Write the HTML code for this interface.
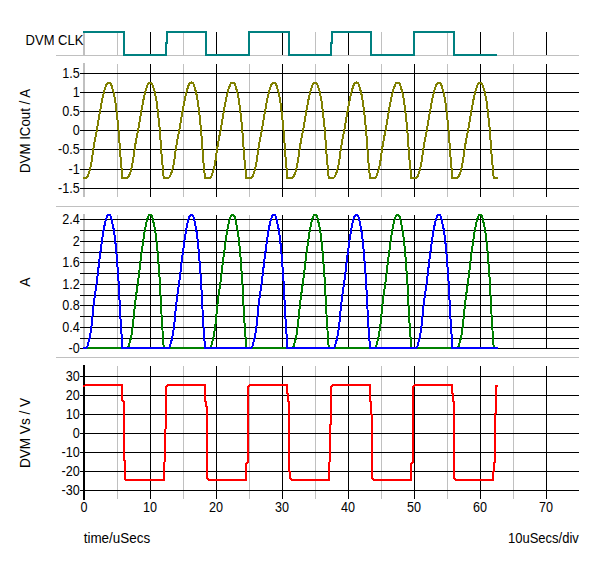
<!DOCTYPE html>
<html><head><meta charset="utf-8"><title>DVM waveforms</title>
<style>
html,body{margin:0;padding:0;background:#fff;}
body{width:600px;height:563px;overflow:hidden;}
svg{display:block;}
svg text{font-family:"Liberation Sans",sans-serif;font-size:14px;fill:#000;}
</style></head><body>
<svg width="600" height="563" viewBox="0 0 600 563">
<rect x="0" y="0" width="600" height="563" fill="#fff"/>
<g shape-rendering="crispEdges">
<rect x="56" y="55" width="523" height="1" fill="#c0c0c0"/>
<rect x="56" y="206" width="523" height="1" fill="#c0c0c0"/>
<rect x="56" y="357" width="523" height="1" fill="#c0c0c0"/>
<rect x="117" y="32" width="1" height="23" fill="#c0c0c0"/>
<rect x="183" y="32" width="1" height="23" fill="#c0c0c0"/>
<rect x="249" y="32" width="1" height="23" fill="#c0c0c0"/>
<rect x="315" y="32" width="1" height="23" fill="#c0c0c0"/>
<rect x="381" y="32" width="1" height="23" fill="#c0c0c0"/>
<rect x="447" y="32" width="1" height="23" fill="#c0c0c0"/>
<rect x="513" y="32" width="1" height="23" fill="#c0c0c0"/>
<rect x="150" y="32" width="1" height="23" fill="#000"/>
<rect x="216" y="32" width="1" height="23" fill="#000"/>
<rect x="282" y="32" width="1" height="23" fill="#000"/>
<rect x="348" y="32" width="1" height="23" fill="#000"/>
<rect x="414" y="32" width="1" height="23" fill="#000"/>
<rect x="480" y="32" width="1" height="23" fill="#000"/>
<rect x="546" y="32" width="1" height="23" fill="#000"/>
<rect x="83" y="32" width="2" height="24" fill="#c0c0c0"/>
<rect x="117" y="64" width="1" height="133" fill="#c0c0c0"/>
<rect x="183" y="64" width="1" height="133" fill="#c0c0c0"/>
<rect x="249" y="64" width="1" height="133" fill="#c0c0c0"/>
<rect x="315" y="64" width="1" height="133" fill="#c0c0c0"/>
<rect x="381" y="64" width="1" height="133" fill="#c0c0c0"/>
<rect x="447" y="64" width="1" height="133" fill="#c0c0c0"/>
<rect x="513" y="64" width="1" height="133" fill="#c0c0c0"/>
<rect x="83" y="63" width="2" height="134" fill="#c0c0c0"/>
<rect x="150" y="64" width="1" height="133" fill="#000"/>
<rect x="216" y="64" width="1" height="133" fill="#000"/>
<rect x="282" y="64" width="1" height="133" fill="#000"/>
<rect x="348" y="64" width="1" height="133" fill="#000"/>
<rect x="414" y="64" width="1" height="133" fill="#000"/>
<rect x="480" y="64" width="1" height="133" fill="#000"/>
<rect x="546" y="64" width="1" height="133" fill="#000"/>
<rect x="80" y="73" width="499" height="1" fill="#000"/>
<rect x="80" y="92" width="499" height="1" fill="#000"/>
<rect x="80" y="111" width="499" height="1" fill="#000"/>
<rect x="80" y="130" width="499" height="1" fill="#000"/>
<rect x="80" y="149" width="499" height="1" fill="#000"/>
<rect x="80" y="169" width="499" height="1" fill="#000"/>
<rect x="80" y="188" width="499" height="1" fill="#000"/>
<rect x="117" y="215" width="1" height="134" fill="#c0c0c0"/>
<rect x="183" y="215" width="1" height="134" fill="#c0c0c0"/>
<rect x="249" y="215" width="1" height="134" fill="#c0c0c0"/>
<rect x="315" y="215" width="1" height="134" fill="#c0c0c0"/>
<rect x="381" y="215" width="1" height="134" fill="#c0c0c0"/>
<rect x="447" y="215" width="1" height="134" fill="#c0c0c0"/>
<rect x="513" y="215" width="1" height="134" fill="#c0c0c0"/>
<rect x="83" y="214" width="2" height="135" fill="#c0c0c0"/>
<rect x="150" y="215" width="1" height="134" fill="#000"/>
<rect x="216" y="215" width="1" height="134" fill="#000"/>
<rect x="282" y="215" width="1" height="134" fill="#000"/>
<rect x="348" y="215" width="1" height="134" fill="#000"/>
<rect x="414" y="215" width="1" height="134" fill="#000"/>
<rect x="480" y="215" width="1" height="134" fill="#000"/>
<rect x="546" y="215" width="1" height="134" fill="#000"/>
<rect x="80" y="219" width="499" height="1" fill="#000"/>
<rect x="80" y="230" width="499" height="1" fill="#000"/>
<rect x="80" y="241" width="499" height="1" fill="#000"/>
<rect x="80" y="252" width="499" height="1" fill="#000"/>
<rect x="80" y="262" width="499" height="1" fill="#000"/>
<rect x="80" y="273" width="499" height="1" fill="#000"/>
<rect x="80" y="284" width="499" height="1" fill="#000"/>
<rect x="80" y="295" width="499" height="1" fill="#000"/>
<rect x="80" y="305" width="499" height="1" fill="#000"/>
<rect x="80" y="316" width="499" height="1" fill="#000"/>
<rect x="80" y="327" width="499" height="1" fill="#000"/>
<rect x="80" y="338" width="499" height="1" fill="#000"/>
<rect x="80" y="348" width="499" height="1" fill="#000"/>
<rect x="117" y="366" width="1" height="133" fill="#c0c0c0"/>
<rect x="183" y="366" width="1" height="133" fill="#c0c0c0"/>
<rect x="249" y="366" width="1" height="133" fill="#c0c0c0"/>
<rect x="315" y="366" width="1" height="133" fill="#c0c0c0"/>
<rect x="381" y="366" width="1" height="133" fill="#c0c0c0"/>
<rect x="447" y="366" width="1" height="133" fill="#c0c0c0"/>
<rect x="513" y="366" width="1" height="133" fill="#c0c0c0"/>
<rect x="150" y="366" width="1" height="133" fill="#000"/>
<rect x="216" y="366" width="1" height="133" fill="#000"/>
<rect x="282" y="366" width="1" height="133" fill="#000"/>
<rect x="348" y="366" width="1" height="133" fill="#000"/>
<rect x="414" y="366" width="1" height="133" fill="#000"/>
<rect x="480" y="366" width="1" height="133" fill="#000"/>
<rect x="546" y="366" width="1" height="133" fill="#000"/>
<rect x="80" y="376" width="499" height="1" fill="#000"/>
<rect x="80" y="395" width="499" height="1" fill="#000"/>
<rect x="80" y="414" width="499" height="1" fill="#000"/>
<rect x="80" y="433" width="499" height="1" fill="#000"/>
<rect x="80" y="452" width="499" height="1" fill="#000"/>
<rect x="80" y="471" width="499" height="1" fill="#000"/>
<rect x="80" y="490" width="499" height="1" fill="#000"/>
<rect x="83" y="365" width="2" height="135" fill="#000"/>
<path d="M83.00 32.00 L124.00 32.00 L124.00 55.00 L166.00 55.00 L166.00 43.00 L167.00 43.00 L167.00 32.00 L206.00 32.00 L206.00 55.00 L249.00 55.00 L249.00 32.00 L289.00 32.00 L289.00 55.00 L331.00 55.00 L331.00 43.00 L332.00 43.00 L332.00 32.00 L371.00 32.00 L371.00 55.00 L414.00 55.00 L414.00 32.00 L454.00 32.00 L454.00 55.00 L497.00 55.00" fill="none" stroke="#008080" stroke-width="2" stroke-linejoin="miter" />
<path d="M83.00 177.80 L83.50 177.80 L84.00 177.80 L84.50 177.80 L85.00 177.80 L85.50 177.80 L86.00 177.80 L86.05 177.80 L86.50 177.61 L87.00 177.10 L87.50 176.39 L88.00 175.15 L88.50 173.77 L89.00 172.45 L89.50 171.01 L90.00 169.31 L90.50 167.21 L91.00 164.74 L91.50 161.97 L92.00 158.99 L92.50 155.40 L93.00 151.50 L93.50 148.03 L94.00 144.98 L94.50 142.13 L95.00 139.40 L95.50 136.85 L96.00 134.41 L96.50 131.93 L97.00 129.28 L97.50 126.41 L98.00 123.40 L98.50 120.33 L99.00 117.26 L99.50 114.29 L100.00 111.47 L100.50 108.77 L101.00 106.08 L101.50 103.43 L102.00 100.84 L102.50 98.36 L103.00 96.02 L103.50 93.86 L104.00 91.92 L104.50 90.13 L105.00 88.48 L105.50 86.99 L106.00 85.72 L106.50 84.55 L107.00 83.52 L107.50 82.97 L108.00 82.73 L108.50 82.57 L109.00 82.50 L109.50 82.59 L110.00 82.86 L110.50 83.26 L111.00 84.01 L111.50 85.37 L112.00 87.04 L112.50 88.74 L113.00 90.36 L113.50 92.19 L114.00 94.37 L114.50 96.92 L115.00 99.79 L115.50 102.93 L116.00 106.57 L116.50 110.67 L117.00 115.25 L117.50 120.07 L118.00 124.54 L118.50 129.44 L119.00 135.98 L119.50 143.11 L120.00 150.19 L120.50 157.04 L121.00 162.76 L121.50 167.59 L122.00 172.82 L122.45 177.80 L122.50 177.80 L123.00 177.80 L123.50 177.80 L124.00 177.80 L124.50 177.80 L125.00 177.80 L125.50 177.80 L126.00 177.80 L126.50 177.80 L127.00 177.80 L127.30 177.80 L127.50 177.75 L128.00 177.38 L128.50 176.80 L129.00 175.82 L129.50 174.45 L130.00 173.11 L130.50 171.75 L131.00 170.21 L131.50 168.32 L132.00 166.02 L132.50 163.39 L133.00 160.51 L133.50 157.29 L134.00 153.44 L134.50 149.67 L135.00 146.48 L135.50 143.53 L136.00 140.75 L136.50 138.10 L137.00 135.63 L137.50 133.19 L138.00 130.64 L138.50 127.87 L139.00 124.92 L139.50 121.87 L140.00 118.79 L140.50 115.76 L141.00 112.85 L141.50 110.12 L142.00 107.43 L142.50 104.75 L143.00 102.12 L143.50 99.58 L144.00 97.17 L144.50 94.92 L145.00 92.86 L145.50 91.01 L146.00 89.28 L146.50 87.71 L147.00 86.33 L147.50 85.13 L148.00 84.00 L148.50 83.17 L149.00 82.85 L149.50 82.64 L150.00 82.52 L150.50 82.52 L151.00 82.71 L151.50 83.05 L152.00 83.54 L152.50 84.63 L153.00 86.18 L153.50 87.91 L154.00 89.54 L154.50 91.24 L155.00 93.23 L155.50 95.60 L156.00 98.32 L156.50 101.32 L157.00 104.67 L157.50 108.58 L158.00 112.88 L158.50 117.68 L159.00 122.32 L159.50 126.87 L160.00 132.49 L160.50 139.50 L161.00 146.70 L161.50 153.68 L162.00 160.10 L162.50 165.19 L163.00 170.15 L163.50 175.56 L163.70 177.80 L164.00 177.80 L164.50 177.80 L165.00 177.80 L165.50 177.80 L166.00 177.80 L166.50 177.80 L167.00 177.80 L167.50 177.80 L168.00 177.80 L168.50 177.80 L168.55 177.80 L169.00 177.61 L169.50 177.10 L170.00 176.39 L170.50 175.15 L171.00 173.77 L171.50 172.45 L172.00 171.01 L172.50 169.31 L173.00 167.21 L173.50 164.74 L174.00 161.97 L174.50 158.99 L175.00 155.40 L175.50 151.50 L176.00 148.03 L176.50 144.98 L177.00 142.13 L177.50 139.40 L178.00 136.85 L178.50 134.41 L179.00 131.93 L179.50 129.28 L180.00 126.41 L180.50 123.40 L181.00 120.33 L181.50 117.26 L182.00 114.29 L182.50 111.47 L183.00 108.77 L183.50 106.08 L184.00 103.43 L184.50 100.84 L185.00 98.36 L185.50 96.02 L186.00 93.86 L186.50 91.92 L187.00 90.13 L187.50 88.48 L188.00 86.99 L188.50 85.72 L189.00 84.55 L189.50 83.52 L190.00 82.97 L190.50 82.73 L191.00 82.57 L191.50 82.50 L192.00 82.59 L192.50 82.86 L193.00 83.26 L193.50 84.01 L194.00 85.37 L194.50 87.04 L195.00 88.74 L195.50 90.36 L196.00 92.19 L196.50 94.37 L197.00 96.92 L197.50 99.79 L198.00 102.93 L198.50 106.57 L199.00 110.67 L199.50 115.25 L200.00 120.07 L200.50 124.54 L201.00 129.44 L201.50 135.98 L202.00 143.11 L202.50 150.19 L203.00 157.04 L203.50 162.76 L204.00 167.59 L204.50 172.82 L204.95 177.80 L205.00 177.80 L205.50 177.80 L206.00 177.80 L206.50 177.80 L207.00 177.80 L207.50 177.80 L208.00 177.80 L208.50 177.80 L209.00 177.80 L209.50 177.80 L209.80 177.80 L210.00 177.75 L210.50 177.38 L211.00 176.80 L211.50 175.82 L212.00 174.45 L212.50 173.11 L213.00 171.75 L213.50 170.21 L214.00 168.32 L214.50 166.02 L215.00 163.39 L215.50 160.51 L216.00 157.29 L216.50 153.44 L217.00 149.67 L217.50 146.48 L218.00 143.53 L218.50 140.75 L219.00 138.10 L219.50 135.63 L220.00 133.19 L220.50 130.64 L221.00 127.87 L221.50 124.92 L222.00 121.87 L222.50 118.79 L223.00 115.76 L223.50 112.85 L224.00 110.12 L224.50 107.43 L225.00 104.75 L225.50 102.12 L226.00 99.58 L226.50 97.17 L227.00 94.92 L227.50 92.86 L228.00 91.01 L228.50 89.28 L229.00 87.71 L229.50 86.33 L230.00 85.13 L230.50 84.00 L231.00 83.17 L231.50 82.85 L232.00 82.64 L232.50 82.52 L233.00 82.52 L233.50 82.71 L234.00 83.05 L234.50 83.54 L235.00 84.63 L235.50 86.18 L236.00 87.91 L236.50 89.54 L237.00 91.24 L237.50 93.23 L238.00 95.60 L238.50 98.32 L239.00 101.32 L239.50 104.67 L240.00 108.58 L240.50 112.88 L241.00 117.68 L241.50 122.32 L242.00 126.87 L242.50 132.49 L243.00 139.50 L243.50 146.70 L244.00 153.68 L244.50 160.10 L245.00 165.19 L245.50 170.15 L246.00 175.56 L246.20 177.80 L246.50 177.80 L247.00 177.80 L247.50 177.80 L248.00 177.80 L248.50 177.80 L249.00 177.80 L249.50 177.80 L250.00 177.80 L250.50 177.80 L251.00 177.80 L251.05 177.80 L251.50 177.61 L252.00 177.10 L252.50 176.39 L253.00 175.15 L253.50 173.77 L254.00 172.45 L254.50 171.01 L255.00 169.31 L255.50 167.21 L256.00 164.74 L256.50 161.97 L257.00 158.99 L257.50 155.40 L258.00 151.50 L258.50 148.03 L259.00 144.98 L259.50 142.13 L260.00 139.40 L260.50 136.85 L261.00 134.41 L261.50 131.93 L262.00 129.28 L262.50 126.41 L263.00 123.40 L263.50 120.33 L264.00 117.26 L264.50 114.29 L265.00 111.47 L265.50 108.77 L266.00 106.08 L266.50 103.43 L267.00 100.84 L267.50 98.36 L268.00 96.02 L268.50 93.86 L269.00 91.92 L269.50 90.13 L270.00 88.48 L270.50 86.99 L271.00 85.72 L271.50 84.55 L272.00 83.52 L272.50 82.97 L273.00 82.73 L273.50 82.57 L274.00 82.50 L274.50 82.59 L275.00 82.86 L275.50 83.26 L276.00 84.01 L276.50 85.37 L277.00 87.04 L277.50 88.74 L278.00 90.36 L278.50 92.19 L279.00 94.37 L279.50 96.92 L280.00 99.79 L280.50 102.93 L281.00 106.57 L281.50 110.67 L282.00 115.25 L282.50 120.07 L283.00 124.54 L283.50 129.44 L284.00 135.98 L284.50 143.11 L285.00 150.19 L285.50 157.04 L286.00 162.76 L286.50 167.59 L287.00 172.82 L287.45 177.80 L287.50 177.80 L288.00 177.80 L288.50 177.80 L289.00 177.80 L289.50 177.80 L290.00 177.80 L290.50 177.80 L291.00 177.80 L291.50 177.80 L292.00 177.80 L292.30 177.80 L292.50 177.75 L293.00 177.38 L293.50 176.80 L294.00 175.82 L294.50 174.45 L295.00 173.11 L295.50 171.75 L296.00 170.21 L296.50 168.32 L297.00 166.02 L297.50 163.39 L298.00 160.51 L298.50 157.29 L299.00 153.44 L299.50 149.67 L300.00 146.48 L300.50 143.53 L301.00 140.75 L301.50 138.10 L302.00 135.63 L302.50 133.19 L303.00 130.64 L303.50 127.87 L304.00 124.92 L304.50 121.87 L305.00 118.79 L305.50 115.76 L306.00 112.85 L306.50 110.12 L307.00 107.43 L307.50 104.75 L308.00 102.12 L308.50 99.58 L309.00 97.17 L309.50 94.92 L310.00 92.86 L310.50 91.01 L311.00 89.28 L311.50 87.71 L312.00 86.33 L312.50 85.13 L313.00 84.00 L313.50 83.17 L314.00 82.85 L314.50 82.64 L315.00 82.52 L315.50 82.52 L316.00 82.71 L316.50 83.05 L317.00 83.54 L317.50 84.63 L318.00 86.18 L318.50 87.91 L319.00 89.54 L319.50 91.24 L320.00 93.23 L320.50 95.60 L321.00 98.32 L321.50 101.32 L322.00 104.67 L322.50 108.58 L323.00 112.88 L323.50 117.68 L324.00 122.32 L324.50 126.87 L325.00 132.49 L325.50 139.50 L326.00 146.70 L326.50 153.68 L327.00 160.10 L327.50 165.19 L328.00 170.15 L328.50 175.56 L328.70 177.80 L329.00 177.80 L329.50 177.80 L330.00 177.80 L330.50 177.80 L331.00 177.80 L331.50 177.80 L332.00 177.80 L332.50 177.80 L333.00 177.80 L333.50 177.80 L333.55 177.80 L334.00 177.61 L334.50 177.10 L335.00 176.39 L335.50 175.15 L336.00 173.77 L336.50 172.45 L337.00 171.01 L337.50 169.31 L338.00 167.21 L338.50 164.74 L339.00 161.97 L339.50 158.99 L340.00 155.40 L340.50 151.50 L341.00 148.03 L341.50 144.98 L342.00 142.13 L342.50 139.40 L343.00 136.85 L343.50 134.41 L344.00 131.93 L344.50 129.28 L345.00 126.41 L345.50 123.40 L346.00 120.33 L346.50 117.26 L347.00 114.29 L347.50 111.47 L348.00 108.77 L348.50 106.08 L349.00 103.43 L349.50 100.84 L350.00 98.36 L350.50 96.02 L351.00 93.86 L351.50 91.92 L352.00 90.13 L352.50 88.48 L353.00 86.99 L353.50 85.72 L354.00 84.55 L354.50 83.52 L355.00 82.97 L355.50 82.73 L356.00 82.57 L356.50 82.50 L357.00 82.59 L357.50 82.86 L358.00 83.26 L358.50 84.01 L359.00 85.37 L359.50 87.04 L360.00 88.74 L360.50 90.36 L361.00 92.19 L361.50 94.37 L362.00 96.92 L362.50 99.79 L363.00 102.93 L363.50 106.57 L364.00 110.67 L364.50 115.25 L365.00 120.07 L365.50 124.54 L366.00 129.44 L366.50 135.98 L367.00 143.11 L367.50 150.19 L368.00 157.04 L368.50 162.76 L369.00 167.59 L369.50 172.82 L369.95 177.80 L370.00 177.80 L370.50 177.80 L371.00 177.80 L371.50 177.80 L372.00 177.80 L372.50 177.80 L373.00 177.80 L373.50 177.80 L374.00 177.80 L374.50 177.80 L374.80 177.80 L375.00 177.75 L375.50 177.38 L376.00 176.80 L376.50 175.82 L377.00 174.45 L377.50 173.11 L378.00 171.75 L378.50 170.21 L379.00 168.32 L379.50 166.02 L380.00 163.39 L380.50 160.51 L381.00 157.29 L381.50 153.44 L382.00 149.67 L382.50 146.48 L383.00 143.53 L383.50 140.75 L384.00 138.10 L384.50 135.63 L385.00 133.19 L385.50 130.64 L386.00 127.87 L386.50 124.92 L387.00 121.87 L387.50 118.79 L388.00 115.76 L388.50 112.85 L389.00 110.12 L389.50 107.43 L390.00 104.75 L390.50 102.12 L391.00 99.58 L391.50 97.17 L392.00 94.92 L392.50 92.86 L393.00 91.01 L393.50 89.28 L394.00 87.71 L394.50 86.33 L395.00 85.13 L395.50 84.00 L396.00 83.17 L396.50 82.85 L397.00 82.64 L397.50 82.52 L398.00 82.52 L398.50 82.71 L399.00 83.05 L399.50 83.54 L400.00 84.63 L400.50 86.18 L401.00 87.91 L401.50 89.54 L402.00 91.24 L402.50 93.23 L403.00 95.60 L403.50 98.32 L404.00 101.32 L404.50 104.67 L405.00 108.58 L405.50 112.88 L406.00 117.68 L406.50 122.32 L407.00 126.87 L407.50 132.49 L408.00 139.50 L408.50 146.70 L409.00 153.68 L409.50 160.10 L410.00 165.19 L410.50 170.15 L411.00 175.56 L411.20 177.80 L411.50 177.80 L412.00 177.80 L412.50 177.80 L413.00 177.80 L413.50 177.80 L414.00 177.80 L414.50 177.80 L415.00 177.80 L415.50 177.80 L416.00 177.80 L416.05 177.80 L416.50 177.61 L417.00 177.10 L417.50 176.39 L418.00 175.15 L418.50 173.77 L419.00 172.45 L419.50 171.01 L420.00 169.31 L420.50 167.21 L421.00 164.74 L421.50 161.97 L422.00 158.99 L422.50 155.40 L423.00 151.50 L423.50 148.03 L424.00 144.98 L424.50 142.13 L425.00 139.40 L425.50 136.85 L426.00 134.41 L426.50 131.93 L427.00 129.28 L427.50 126.41 L428.00 123.40 L428.50 120.33 L429.00 117.26 L429.50 114.29 L430.00 111.47 L430.50 108.77 L431.00 106.08 L431.50 103.43 L432.00 100.84 L432.50 98.36 L433.00 96.02 L433.50 93.86 L434.00 91.92 L434.50 90.13 L435.00 88.48 L435.50 86.99 L436.00 85.72 L436.50 84.55 L437.00 83.52 L437.50 82.97 L438.00 82.73 L438.50 82.57 L439.00 82.50 L439.50 82.59 L440.00 82.86 L440.50 83.26 L441.00 84.01 L441.50 85.37 L442.00 87.04 L442.50 88.74 L443.00 90.36 L443.50 92.19 L444.00 94.37 L444.50 96.92 L445.00 99.79 L445.50 102.93 L446.00 106.57 L446.50 110.67 L447.00 115.25 L447.50 120.07 L448.00 124.54 L448.50 129.44 L449.00 135.98 L449.50 143.11 L450.00 150.19 L450.50 157.04 L451.00 162.76 L451.50 167.59 L452.00 172.82 L452.45 177.80 L452.50 177.80 L453.00 177.80 L453.50 177.80 L454.00 177.80 L454.50 177.80 L455.00 177.80 L455.50 177.80 L456.00 177.80 L456.50 177.80 L457.00 177.80 L457.30 177.80 L457.50 177.75 L458.00 177.38 L458.50 176.80 L459.00 175.82 L459.50 174.45 L460.00 173.11 L460.50 171.75 L461.00 170.21 L461.50 168.32 L462.00 166.02 L462.50 163.39 L463.00 160.51 L463.50 157.29 L464.00 153.44 L464.50 149.67 L465.00 146.48 L465.50 143.53 L466.00 140.75 L466.50 138.10 L467.00 135.63 L467.50 133.19 L468.00 130.64 L468.50 127.87 L469.00 124.92 L469.50 121.87 L470.00 118.79 L470.50 115.76 L471.00 112.85 L471.50 110.12 L472.00 107.43 L472.50 104.75 L473.00 102.12 L473.50 99.58 L474.00 97.17 L474.50 94.92 L475.00 92.86 L475.50 91.01 L476.00 89.28 L476.50 87.71 L477.00 86.33 L477.50 85.13 L478.00 84.00 L478.50 83.17 L479.00 82.85 L479.50 82.64 L480.00 82.52 L480.50 82.52 L481.00 82.71 L481.50 83.05 L482.00 83.54 L482.50 84.63 L483.00 86.18 L483.50 87.91 L484.00 89.54 L484.50 91.24 L485.00 93.23 L485.50 95.60 L486.00 98.32 L486.50 101.32 L487.00 104.67 L487.50 108.58 L488.00 112.88 L488.50 117.68 L489.00 122.32 L489.50 126.87 L490.00 132.49 L490.50 139.50 L491.00 146.70 L491.50 153.68 L492.00 160.10 L492.50 165.19 L493.00 170.15 L493.50 175.56 L493.70 177.80 L494.00 177.80 L494.50 177.80 L495.00 177.80 L495.50 177.80 L496.00 177.80 L496.50 177.80 L497.00 177.80 L497.50 177.80" fill="none" stroke="#808000" stroke-width="2" stroke-linejoin="miter" />
<path d="M83.00 348.00 L83.50 348.00 L84.00 348.00 L84.50 348.00 L85.00 348.00 L85.50 348.00 L86.00 348.00 L86.05 348.00 L86.50 348.00 L87.00 348.00 L87.50 348.00 L88.00 348.00 L88.50 348.00 L89.00 348.00 L89.50 348.00 L90.00 348.00 L90.50 348.00 L91.00 348.00 L91.50 348.00 L92.00 348.00 L92.50 348.00 L93.00 348.00 L93.50 348.00 L94.00 348.00 L94.50 348.00 L95.00 348.00 L95.50 348.00 L96.00 348.00 L96.50 348.00 L97.00 348.00 L97.50 348.00 L98.00 348.00 L98.50 348.00 L99.00 348.00 L99.50 348.00 L100.00 348.00 L100.50 348.00 L101.00 348.00 L101.50 348.00 L102.00 348.00 L102.50 348.00 L103.00 348.00 L103.50 348.00 L104.00 348.00 L104.50 348.00 L105.00 348.00 L105.50 348.00 L106.00 348.00 L106.50 348.00 L107.00 348.00 L107.50 348.00 L108.00 348.00 L108.50 348.00 L109.00 348.00 L109.50 348.00 L110.00 348.00 L110.50 348.00 L111.00 348.00 L111.50 348.00 L112.00 348.00 L112.50 348.00 L113.00 348.00 L113.50 348.00 L114.00 348.00 L114.50 348.00 L115.00 348.00 L115.50 348.00 L116.00 348.00 L116.50 348.00 L117.00 348.00 L117.50 348.00 L118.00 348.00 L118.50 348.00 L119.00 348.00 L119.50 348.00 L120.00 348.00 L120.50 348.00 L121.00 348.00 L121.50 348.00 L122.00 348.00 L122.45 348.00 L122.50 348.00 L123.00 348.00 L123.50 348.00 L124.00 348.00 L124.50 348.00 L125.00 348.00 L125.50 348.00 L126.00 348.00 L126.50 348.00 L127.00 348.00 L127.30 348.00 L127.50 347.94 L128.00 347.42 L128.50 346.60 L129.00 345.23 L129.50 343.32 L130.00 341.45 L130.50 339.55 L131.00 337.39 L131.50 334.75 L132.00 331.54 L132.50 327.87 L133.00 323.84 L133.50 319.34 L134.00 313.97 L134.50 308.71 L135.00 304.24 L135.50 300.13 L136.00 296.23 L136.50 292.54 L137.00 289.08 L137.50 285.67 L138.00 282.11 L138.50 278.24 L139.00 274.12 L139.50 269.86 L140.00 265.56 L140.50 261.32 L141.00 257.26 L141.50 253.45 L142.00 249.68 L142.50 245.94 L143.00 242.27 L143.50 238.73 L144.00 235.36 L144.50 232.21 L145.00 229.34 L145.50 226.74 L146.00 224.34 L146.50 222.14 L147.00 220.21 L147.50 218.54 L148.00 216.95 L148.50 215.79 L149.00 215.34 L149.50 215.06 L150.00 214.89 L150.50 214.89 L151.00 215.15 L151.50 215.63 L152.00 216.31 L152.50 217.84 L153.00 220.01 L153.50 222.41 L154.00 224.69 L154.50 227.07 L155.00 229.85 L155.50 233.17 L156.00 236.96 L156.50 241.16 L157.00 245.84 L157.50 251.30 L158.00 257.30 L158.50 264.01 L159.00 270.50 L159.50 276.84 L160.00 284.70 L160.50 294.50 L161.00 304.55 L161.50 314.30 L162.00 323.27 L162.50 330.38 L163.00 337.31 L163.50 344.87 L163.70 348.00 L164.00 348.00 L164.50 348.00 L165.00 348.00 L165.50 348.00 L166.00 348.00 L166.50 348.00 L167.00 348.00 L167.50 348.00 L168.00 348.00 L168.50 348.00 L168.55 348.00 L169.00 348.00 L169.50 348.00 L170.00 348.00 L170.50 348.00 L171.00 348.00 L171.50 348.00 L172.00 348.00 L172.50 348.00 L173.00 348.00 L173.50 348.00 L174.00 348.00 L174.50 348.00 L175.00 348.00 L175.50 348.00 L176.00 348.00 L176.50 348.00 L177.00 348.00 L177.50 348.00 L178.00 348.00 L178.50 348.00 L179.00 348.00 L179.50 348.00 L180.00 348.00 L180.50 348.00 L181.00 348.00 L181.50 348.00 L182.00 348.00 L182.50 348.00 L183.00 348.00 L183.50 348.00 L184.00 348.00 L184.50 348.00 L185.00 348.00 L185.50 348.00 L186.00 348.00 L186.50 348.00 L187.00 348.00 L187.50 348.00 L188.00 348.00 L188.50 348.00 L189.00 348.00 L189.50 348.00 L190.00 348.00 L190.50 348.00 L191.00 348.00 L191.50 348.00 L192.00 348.00 L192.50 348.00 L193.00 348.00 L193.50 348.00 L194.00 348.00 L194.50 348.00 L195.00 348.00 L195.50 348.00 L196.00 348.00 L196.50 348.00 L197.00 348.00 L197.50 348.00 L198.00 348.00 L198.50 348.00 L199.00 348.00 L199.50 348.00 L200.00 348.00 L200.50 348.00 L201.00 348.00 L201.50 348.00 L202.00 348.00 L202.50 348.00 L203.00 348.00 L203.50 348.00 L204.00 348.00 L204.50 348.00 L204.95 348.00 L205.00 348.00 L205.50 348.00 L206.00 348.00 L206.50 348.00 L207.00 348.00 L207.50 348.00 L208.00 348.00 L208.50 348.00 L209.00 348.00 L209.50 348.00 L209.80 348.00 L210.00 347.94 L210.50 347.42 L211.00 346.60 L211.50 345.23 L212.00 343.32 L212.50 341.45 L213.00 339.55 L213.50 337.39 L214.00 334.75 L214.50 331.54 L215.00 327.87 L215.50 323.84 L216.00 319.34 L216.50 313.97 L217.00 308.71 L217.50 304.24 L218.00 300.13 L218.50 296.23 L219.00 292.54 L219.50 289.08 L220.00 285.67 L220.50 282.11 L221.00 278.24 L221.50 274.12 L222.00 269.86 L222.50 265.56 L223.00 261.32 L223.50 257.26 L224.00 253.45 L224.50 249.68 L225.00 245.94 L225.50 242.27 L226.00 238.73 L226.50 235.36 L227.00 232.21 L227.50 229.34 L228.00 226.74 L228.50 224.34 L229.00 222.14 L229.50 220.21 L230.00 218.54 L230.50 216.95 L231.00 215.79 L231.50 215.34 L232.00 215.06 L232.50 214.89 L233.00 214.89 L233.50 215.15 L234.00 215.63 L234.50 216.31 L235.00 217.84 L235.50 220.01 L236.00 222.41 L236.50 224.69 L237.00 227.07 L237.50 229.85 L238.00 233.17 L238.50 236.96 L239.00 241.16 L239.50 245.84 L240.00 251.30 L240.50 257.30 L241.00 264.01 L241.50 270.50 L242.00 276.84 L242.50 284.70 L243.00 294.50 L243.50 304.55 L244.00 314.30 L244.50 323.27 L245.00 330.38 L245.50 337.31 L246.00 344.87 L246.20 348.00 L246.50 348.00 L247.00 348.00 L247.50 348.00 L248.00 348.00 L248.50 348.00 L249.00 348.00 L249.50 348.00 L250.00 348.00 L250.50 348.00 L251.00 348.00 L251.05 348.00 L251.50 348.00 L252.00 348.00 L252.50 348.00 L253.00 348.00 L253.50 348.00 L254.00 348.00 L254.50 348.00 L255.00 348.00 L255.50 348.00 L256.00 348.00 L256.50 348.00 L257.00 348.00 L257.50 348.00 L258.00 348.00 L258.50 348.00 L259.00 348.00 L259.50 348.00 L260.00 348.00 L260.50 348.00 L261.00 348.00 L261.50 348.00 L262.00 348.00 L262.50 348.00 L263.00 348.00 L263.50 348.00 L264.00 348.00 L264.50 348.00 L265.00 348.00 L265.50 348.00 L266.00 348.00 L266.50 348.00 L267.00 348.00 L267.50 348.00 L268.00 348.00 L268.50 348.00 L269.00 348.00 L269.50 348.00 L270.00 348.00 L270.50 348.00 L271.00 348.00 L271.50 348.00 L272.00 348.00 L272.50 348.00 L273.00 348.00 L273.50 348.00 L274.00 348.00 L274.50 348.00 L275.00 348.00 L275.50 348.00 L276.00 348.00 L276.50 348.00 L277.00 348.00 L277.50 348.00 L278.00 348.00 L278.50 348.00 L279.00 348.00 L279.50 348.00 L280.00 348.00 L280.50 348.00 L281.00 348.00 L281.50 348.00 L282.00 348.00 L282.50 348.00 L283.00 348.00 L283.50 348.00 L284.00 348.00 L284.50 348.00 L285.00 348.00 L285.50 348.00 L286.00 348.00 L286.50 348.00 L287.00 348.00 L287.45 348.00 L287.50 348.00 L288.00 348.00 L288.50 348.00 L289.00 348.00 L289.50 348.00 L290.00 348.00 L290.50 348.00 L291.00 348.00 L291.50 348.00 L292.00 348.00 L292.30 348.00 L292.50 347.94 L293.00 347.42 L293.50 346.60 L294.00 345.23 L294.50 343.32 L295.00 341.45 L295.50 339.55 L296.00 337.39 L296.50 334.75 L297.00 331.54 L297.50 327.87 L298.00 323.84 L298.50 319.34 L299.00 313.97 L299.50 308.71 L300.00 304.24 L300.50 300.13 L301.00 296.23 L301.50 292.54 L302.00 289.08 L302.50 285.67 L303.00 282.11 L303.50 278.24 L304.00 274.12 L304.50 269.86 L305.00 265.56 L305.50 261.32 L306.00 257.26 L306.50 253.45 L307.00 249.68 L307.50 245.94 L308.00 242.27 L308.50 238.73 L309.00 235.36 L309.50 232.21 L310.00 229.34 L310.50 226.74 L311.00 224.34 L311.50 222.14 L312.00 220.21 L312.50 218.54 L313.00 216.95 L313.50 215.79 L314.00 215.34 L314.50 215.06 L315.00 214.89 L315.50 214.89 L316.00 215.15 L316.50 215.63 L317.00 216.31 L317.50 217.84 L318.00 220.01 L318.50 222.41 L319.00 224.69 L319.50 227.07 L320.00 229.85 L320.50 233.17 L321.00 236.96 L321.50 241.16 L322.00 245.84 L322.50 251.30 L323.00 257.30 L323.50 264.01 L324.00 270.50 L324.50 276.84 L325.00 284.70 L325.50 294.50 L326.00 304.55 L326.50 314.30 L327.00 323.27 L327.50 330.38 L328.00 337.31 L328.50 344.87 L328.70 348.00 L329.00 348.00 L329.50 348.00 L330.00 348.00 L330.50 348.00 L331.00 348.00 L331.50 348.00 L332.00 348.00 L332.50 348.00 L333.00 348.00 L333.50 348.00 L333.55 348.00 L334.00 348.00 L334.50 348.00 L335.00 348.00 L335.50 348.00 L336.00 348.00 L336.50 348.00 L337.00 348.00 L337.50 348.00 L338.00 348.00 L338.50 348.00 L339.00 348.00 L339.50 348.00 L340.00 348.00 L340.50 348.00 L341.00 348.00 L341.50 348.00 L342.00 348.00 L342.50 348.00 L343.00 348.00 L343.50 348.00 L344.00 348.00 L344.50 348.00 L345.00 348.00 L345.50 348.00 L346.00 348.00 L346.50 348.00 L347.00 348.00 L347.50 348.00 L348.00 348.00 L348.50 348.00 L349.00 348.00 L349.50 348.00 L350.00 348.00 L350.50 348.00 L351.00 348.00 L351.50 348.00 L352.00 348.00 L352.50 348.00 L353.00 348.00 L353.50 348.00 L354.00 348.00 L354.50 348.00 L355.00 348.00 L355.50 348.00 L356.00 348.00 L356.50 348.00 L357.00 348.00 L357.50 348.00 L358.00 348.00 L358.50 348.00 L359.00 348.00 L359.50 348.00 L360.00 348.00 L360.50 348.00 L361.00 348.00 L361.50 348.00 L362.00 348.00 L362.50 348.00 L363.00 348.00 L363.50 348.00 L364.00 348.00 L364.50 348.00 L365.00 348.00 L365.50 348.00 L366.00 348.00 L366.50 348.00 L367.00 348.00 L367.50 348.00 L368.00 348.00 L368.50 348.00 L369.00 348.00 L369.50 348.00 L369.95 348.00 L370.00 348.00 L370.50 348.00 L371.00 348.00 L371.50 348.00 L372.00 348.00 L372.50 348.00 L373.00 348.00 L373.50 348.00 L374.00 348.00 L374.50 348.00 L374.80 348.00 L375.00 347.94 L375.50 347.42 L376.00 346.60 L376.50 345.23 L377.00 343.32 L377.50 341.45 L378.00 339.55 L378.50 337.39 L379.00 334.75 L379.50 331.54 L380.00 327.87 L380.50 323.84 L381.00 319.34 L381.50 313.97 L382.00 308.71 L382.50 304.24 L383.00 300.13 L383.50 296.23 L384.00 292.54 L384.50 289.08 L385.00 285.67 L385.50 282.11 L386.00 278.24 L386.50 274.12 L387.00 269.86 L387.50 265.56 L388.00 261.32 L388.50 257.26 L389.00 253.45 L389.50 249.68 L390.00 245.94 L390.50 242.27 L391.00 238.73 L391.50 235.36 L392.00 232.21 L392.50 229.34 L393.00 226.74 L393.50 224.34 L394.00 222.14 L394.50 220.21 L395.00 218.54 L395.50 216.95 L396.00 215.79 L396.50 215.34 L397.00 215.06 L397.50 214.89 L398.00 214.89 L398.50 215.15 L399.00 215.63 L399.50 216.31 L400.00 217.84 L400.50 220.01 L401.00 222.41 L401.50 224.69 L402.00 227.07 L402.50 229.85 L403.00 233.17 L403.50 236.96 L404.00 241.16 L404.50 245.84 L405.00 251.30 L405.50 257.30 L406.00 264.01 L406.50 270.50 L407.00 276.84 L407.50 284.70 L408.00 294.50 L408.50 304.55 L409.00 314.30 L409.50 323.27 L410.00 330.38 L410.50 337.31 L411.00 344.87 L411.20 348.00 L411.50 348.00 L412.00 348.00 L412.50 348.00 L413.00 348.00 L413.50 348.00 L414.00 348.00 L414.50 348.00 L415.00 348.00 L415.50 348.00 L416.00 348.00 L416.05 348.00 L416.50 348.00 L417.00 348.00 L417.50 348.00 L418.00 348.00 L418.50 348.00 L419.00 348.00 L419.50 348.00 L420.00 348.00 L420.50 348.00 L421.00 348.00 L421.50 348.00 L422.00 348.00 L422.50 348.00 L423.00 348.00 L423.50 348.00 L424.00 348.00 L424.50 348.00 L425.00 348.00 L425.50 348.00 L426.00 348.00 L426.50 348.00 L427.00 348.00 L427.50 348.00 L428.00 348.00 L428.50 348.00 L429.00 348.00 L429.50 348.00 L430.00 348.00 L430.50 348.00 L431.00 348.00 L431.50 348.00 L432.00 348.00 L432.50 348.00 L433.00 348.00 L433.50 348.00 L434.00 348.00 L434.50 348.00 L435.00 348.00 L435.50 348.00 L436.00 348.00 L436.50 348.00 L437.00 348.00 L437.50 348.00 L438.00 348.00 L438.50 348.00 L439.00 348.00 L439.50 348.00 L440.00 348.00 L440.50 348.00 L441.00 348.00 L441.50 348.00 L442.00 348.00 L442.50 348.00 L443.00 348.00 L443.50 348.00 L444.00 348.00 L444.50 348.00 L445.00 348.00 L445.50 348.00 L446.00 348.00 L446.50 348.00 L447.00 348.00 L447.50 348.00 L448.00 348.00 L448.50 348.00 L449.00 348.00 L449.50 348.00 L450.00 348.00 L450.50 348.00 L451.00 348.00 L451.50 348.00 L452.00 348.00 L452.45 348.00 L452.50 348.00 L453.00 348.00 L453.50 348.00 L454.00 348.00 L454.50 348.00 L455.00 348.00 L455.50 348.00 L456.00 348.00 L456.50 348.00 L457.00 348.00 L457.30 348.00 L457.50 347.94 L458.00 347.42 L458.50 346.60 L459.00 345.23 L459.50 343.32 L460.00 341.45 L460.50 339.55 L461.00 337.39 L461.50 334.75 L462.00 331.54 L462.50 327.87 L463.00 323.84 L463.50 319.34 L464.00 313.97 L464.50 308.71 L465.00 304.24 L465.50 300.13 L466.00 296.23 L466.50 292.54 L467.00 289.08 L467.50 285.67 L468.00 282.11 L468.50 278.24 L469.00 274.12 L469.50 269.86 L470.00 265.56 L470.50 261.32 L471.00 257.26 L471.50 253.45 L472.00 249.68 L472.50 245.94 L473.00 242.27 L473.50 238.73 L474.00 235.36 L474.50 232.21 L475.00 229.34 L475.50 226.74 L476.00 224.34 L476.50 222.14 L477.00 220.21 L477.50 218.54 L478.00 216.95 L478.50 215.79 L479.00 215.34 L479.50 215.06 L480.00 214.89 L480.50 214.89 L481.00 215.15 L481.50 215.63 L482.00 216.31 L482.50 217.84 L483.00 220.01 L483.50 222.41 L484.00 224.69 L484.50 227.07 L485.00 229.85 L485.50 233.17 L486.00 236.96 L486.50 241.16 L487.00 245.84 L487.50 251.30 L488.00 257.30 L488.50 264.01 L489.00 270.50 L489.50 276.84 L490.00 284.70 L490.50 294.50 L491.00 304.55 L491.50 314.30 L492.00 323.27 L492.50 330.38 L493.00 337.31 L493.50 344.87 L493.70 348.00 L494.00 348.00 L494.50 348.00 L495.00 348.00 L495.50 348.00 L496.00 348.00 L496.50 348.00 L497.00 348.00 L497.50 348.00" fill="none" stroke="#008000" stroke-width="2" stroke-linejoin="miter" />
<path d="M83.00 348.00 L83.50 348.00 L84.00 348.00 L84.50 348.00 L85.00 348.00 L85.50 348.00 L86.00 348.00 L86.05 348.00 L86.50 347.73 L87.00 347.03 L87.50 346.03 L88.00 344.30 L88.50 342.37 L89.00 340.52 L89.50 338.52 L90.00 336.14 L90.50 333.21 L91.00 329.76 L91.50 325.89 L92.00 321.72 L92.50 316.71 L93.00 311.25 L93.50 306.41 L94.00 302.15 L94.50 298.16 L95.00 294.35 L95.50 290.79 L96.00 287.38 L96.50 283.92 L97.00 280.21 L97.50 276.20 L98.00 272.00 L98.50 267.70 L99.00 263.43 L99.50 259.27 L100.00 255.33 L100.50 251.57 L101.00 247.81 L101.50 244.09 L102.00 240.48 L102.50 237.02 L103.00 233.75 L103.50 230.74 L104.00 228.01 L104.50 225.52 L105.00 223.21 L105.50 221.14 L106.00 219.35 L106.50 217.72 L107.00 216.29 L107.50 215.52 L108.00 215.19 L108.50 214.96 L109.00 214.86 L109.50 214.99 L110.00 215.37 L110.50 215.92 L111.00 216.97 L111.50 218.87 L112.00 221.21 L112.50 223.58 L113.00 225.84 L113.50 228.39 L114.00 231.45 L114.50 235.01 L115.00 239.01 L115.50 243.40 L116.00 248.48 L116.50 254.22 L117.00 260.61 L117.50 267.35 L118.00 273.60 L118.50 280.44 L119.00 289.58 L119.50 299.53 L120.00 309.43 L120.50 319.00 L121.00 326.99 L121.50 333.73 L122.00 341.04 L122.45 348.00 L122.50 348.00 L123.00 348.00 L123.50 348.00 L124.00 348.00 L124.50 348.00 L125.00 348.00 L125.50 348.00 L126.00 348.00 L126.50 348.00 L127.00 348.00 L127.30 348.00 L127.50 348.00 L128.00 348.00 L128.50 348.00 L129.00 348.00 L129.50 348.00 L130.00 348.00 L130.50 348.00 L131.00 348.00 L131.50 348.00 L132.00 348.00 L132.50 348.00 L133.00 348.00 L133.50 348.00 L134.00 348.00 L134.50 348.00 L135.00 348.00 L135.50 348.00 L136.00 348.00 L136.50 348.00 L137.00 348.00 L137.50 348.00 L138.00 348.00 L138.50 348.00 L139.00 348.00 L139.50 348.00 L140.00 348.00 L140.50 348.00 L141.00 348.00 L141.50 348.00 L142.00 348.00 L142.50 348.00 L143.00 348.00 L143.50 348.00 L144.00 348.00 L144.50 348.00 L145.00 348.00 L145.50 348.00 L146.00 348.00 L146.50 348.00 L147.00 348.00 L147.50 348.00 L148.00 348.00 L148.50 348.00 L149.00 348.00 L149.50 348.00 L150.00 348.00 L150.50 348.00 L151.00 348.00 L151.50 348.00 L152.00 348.00 L152.50 348.00 L153.00 348.00 L153.50 348.00 L154.00 348.00 L154.50 348.00 L155.00 348.00 L155.50 348.00 L156.00 348.00 L156.50 348.00 L157.00 348.00 L157.50 348.00 L158.00 348.00 L158.50 348.00 L159.00 348.00 L159.50 348.00 L160.00 348.00 L160.50 348.00 L161.00 348.00 L161.50 348.00 L162.00 348.00 L162.50 348.00 L163.00 348.00 L163.50 348.00 L163.70 348.00 L164.00 348.00 L164.50 348.00 L165.00 348.00 L165.50 348.00 L166.00 348.00 L166.50 348.00 L167.00 348.00 L167.50 348.00 L168.00 348.00 L168.50 348.00 L168.55 348.00 L169.00 347.73 L169.50 347.03 L170.00 346.03 L170.50 344.30 L171.00 342.37 L171.50 340.52 L172.00 338.52 L172.50 336.14 L173.00 333.21 L173.50 329.76 L174.00 325.89 L174.50 321.72 L175.00 316.71 L175.50 311.25 L176.00 306.41 L176.50 302.15 L177.00 298.16 L177.50 294.35 L178.00 290.79 L178.50 287.38 L179.00 283.92 L179.50 280.21 L180.00 276.20 L180.50 272.00 L181.00 267.70 L181.50 263.43 L182.00 259.27 L182.50 255.33 L183.00 251.57 L183.50 247.81 L184.00 244.09 L184.50 240.48 L185.00 237.02 L185.50 233.75 L186.00 230.74 L186.50 228.01 L187.00 225.52 L187.50 223.21 L188.00 221.14 L188.50 219.35 L189.00 217.72 L189.50 216.29 L190.00 215.52 L190.50 215.19 L191.00 214.96 L191.50 214.86 L192.00 214.99 L192.50 215.37 L193.00 215.92 L193.50 216.97 L194.00 218.87 L194.50 221.21 L195.00 223.58 L195.50 225.84 L196.00 228.39 L196.50 231.45 L197.00 235.01 L197.50 239.01 L198.00 243.40 L198.50 248.48 L199.00 254.22 L199.50 260.61 L200.00 267.35 L200.50 273.60 L201.00 280.44 L201.50 289.58 L202.00 299.53 L202.50 309.43 L203.00 319.00 L203.50 326.99 L204.00 333.73 L204.50 341.04 L204.95 348.00 L205.00 348.00 L205.50 348.00 L206.00 348.00 L206.50 348.00 L207.00 348.00 L207.50 348.00 L208.00 348.00 L208.50 348.00 L209.00 348.00 L209.50 348.00 L209.80 348.00 L210.00 348.00 L210.50 348.00 L211.00 348.00 L211.50 348.00 L212.00 348.00 L212.50 348.00 L213.00 348.00 L213.50 348.00 L214.00 348.00 L214.50 348.00 L215.00 348.00 L215.50 348.00 L216.00 348.00 L216.50 348.00 L217.00 348.00 L217.50 348.00 L218.00 348.00 L218.50 348.00 L219.00 348.00 L219.50 348.00 L220.00 348.00 L220.50 348.00 L221.00 348.00 L221.50 348.00 L222.00 348.00 L222.50 348.00 L223.00 348.00 L223.50 348.00 L224.00 348.00 L224.50 348.00 L225.00 348.00 L225.50 348.00 L226.00 348.00 L226.50 348.00 L227.00 348.00 L227.50 348.00 L228.00 348.00 L228.50 348.00 L229.00 348.00 L229.50 348.00 L230.00 348.00 L230.50 348.00 L231.00 348.00 L231.50 348.00 L232.00 348.00 L232.50 348.00 L233.00 348.00 L233.50 348.00 L234.00 348.00 L234.50 348.00 L235.00 348.00 L235.50 348.00 L236.00 348.00 L236.50 348.00 L237.00 348.00 L237.50 348.00 L238.00 348.00 L238.50 348.00 L239.00 348.00 L239.50 348.00 L240.00 348.00 L240.50 348.00 L241.00 348.00 L241.50 348.00 L242.00 348.00 L242.50 348.00 L243.00 348.00 L243.50 348.00 L244.00 348.00 L244.50 348.00 L245.00 348.00 L245.50 348.00 L246.00 348.00 L246.20 348.00 L246.50 348.00 L247.00 348.00 L247.50 348.00 L248.00 348.00 L248.50 348.00 L249.00 348.00 L249.50 348.00 L250.00 348.00 L250.50 348.00 L251.00 348.00 L251.05 348.00 L251.50 347.73 L252.00 347.03 L252.50 346.03 L253.00 344.30 L253.50 342.37 L254.00 340.52 L254.50 338.52 L255.00 336.14 L255.50 333.21 L256.00 329.76 L256.50 325.89 L257.00 321.72 L257.50 316.71 L258.00 311.25 L258.50 306.41 L259.00 302.15 L259.50 298.16 L260.00 294.35 L260.50 290.79 L261.00 287.38 L261.50 283.92 L262.00 280.21 L262.50 276.20 L263.00 272.00 L263.50 267.70 L264.00 263.43 L264.50 259.27 L265.00 255.33 L265.50 251.57 L266.00 247.81 L266.50 244.09 L267.00 240.48 L267.50 237.02 L268.00 233.75 L268.50 230.74 L269.00 228.01 L269.50 225.52 L270.00 223.21 L270.50 221.14 L271.00 219.35 L271.50 217.72 L272.00 216.29 L272.50 215.52 L273.00 215.19 L273.50 214.96 L274.00 214.86 L274.50 214.99 L275.00 215.37 L275.50 215.92 L276.00 216.97 L276.50 218.87 L277.00 221.21 L277.50 223.58 L278.00 225.84 L278.50 228.39 L279.00 231.45 L279.50 235.01 L280.00 239.01 L280.50 243.40 L281.00 248.48 L281.50 254.22 L282.00 260.61 L282.50 267.35 L283.00 273.60 L283.50 280.44 L284.00 289.58 L284.50 299.53 L285.00 309.43 L285.50 319.00 L286.00 326.99 L286.50 333.73 L287.00 341.04 L287.45 348.00 L287.50 348.00 L288.00 348.00 L288.50 348.00 L289.00 348.00 L289.50 348.00 L290.00 348.00 L290.50 348.00 L291.00 348.00 L291.50 348.00 L292.00 348.00 L292.30 348.00 L292.50 348.00 L293.00 348.00 L293.50 348.00 L294.00 348.00 L294.50 348.00 L295.00 348.00 L295.50 348.00 L296.00 348.00 L296.50 348.00 L297.00 348.00 L297.50 348.00 L298.00 348.00 L298.50 348.00 L299.00 348.00 L299.50 348.00 L300.00 348.00 L300.50 348.00 L301.00 348.00 L301.50 348.00 L302.00 348.00 L302.50 348.00 L303.00 348.00 L303.50 348.00 L304.00 348.00 L304.50 348.00 L305.00 348.00 L305.50 348.00 L306.00 348.00 L306.50 348.00 L307.00 348.00 L307.50 348.00 L308.00 348.00 L308.50 348.00 L309.00 348.00 L309.50 348.00 L310.00 348.00 L310.50 348.00 L311.00 348.00 L311.50 348.00 L312.00 348.00 L312.50 348.00 L313.00 348.00 L313.50 348.00 L314.00 348.00 L314.50 348.00 L315.00 348.00 L315.50 348.00 L316.00 348.00 L316.50 348.00 L317.00 348.00 L317.50 348.00 L318.00 348.00 L318.50 348.00 L319.00 348.00 L319.50 348.00 L320.00 348.00 L320.50 348.00 L321.00 348.00 L321.50 348.00 L322.00 348.00 L322.50 348.00 L323.00 348.00 L323.50 348.00 L324.00 348.00 L324.50 348.00 L325.00 348.00 L325.50 348.00 L326.00 348.00 L326.50 348.00 L327.00 348.00 L327.50 348.00 L328.00 348.00 L328.50 348.00 L328.70 348.00 L329.00 348.00 L329.50 348.00 L330.00 348.00 L330.50 348.00 L331.00 348.00 L331.50 348.00 L332.00 348.00 L332.50 348.00 L333.00 348.00 L333.50 348.00 L333.55 348.00 L334.00 347.73 L334.50 347.03 L335.00 346.03 L335.50 344.30 L336.00 342.37 L336.50 340.52 L337.00 338.52 L337.50 336.14 L338.00 333.21 L338.50 329.76 L339.00 325.89 L339.50 321.72 L340.00 316.71 L340.50 311.25 L341.00 306.41 L341.50 302.15 L342.00 298.16 L342.50 294.35 L343.00 290.79 L343.50 287.38 L344.00 283.92 L344.50 280.21 L345.00 276.20 L345.50 272.00 L346.00 267.70 L346.50 263.43 L347.00 259.27 L347.50 255.33 L348.00 251.57 L348.50 247.81 L349.00 244.09 L349.50 240.48 L350.00 237.02 L350.50 233.75 L351.00 230.74 L351.50 228.01 L352.00 225.52 L352.50 223.21 L353.00 221.14 L353.50 219.35 L354.00 217.72 L354.50 216.29 L355.00 215.52 L355.50 215.19 L356.00 214.96 L356.50 214.86 L357.00 214.99 L357.50 215.37 L358.00 215.92 L358.50 216.97 L359.00 218.87 L359.50 221.21 L360.00 223.58 L360.50 225.84 L361.00 228.39 L361.50 231.45 L362.00 235.01 L362.50 239.01 L363.00 243.40 L363.50 248.48 L364.00 254.22 L364.50 260.61 L365.00 267.35 L365.50 273.60 L366.00 280.44 L366.50 289.58 L367.00 299.53 L367.50 309.43 L368.00 319.00 L368.50 326.99 L369.00 333.73 L369.50 341.04 L369.95 348.00 L370.00 348.00 L370.50 348.00 L371.00 348.00 L371.50 348.00 L372.00 348.00 L372.50 348.00 L373.00 348.00 L373.50 348.00 L374.00 348.00 L374.50 348.00 L374.80 348.00 L375.00 348.00 L375.50 348.00 L376.00 348.00 L376.50 348.00 L377.00 348.00 L377.50 348.00 L378.00 348.00 L378.50 348.00 L379.00 348.00 L379.50 348.00 L380.00 348.00 L380.50 348.00 L381.00 348.00 L381.50 348.00 L382.00 348.00 L382.50 348.00 L383.00 348.00 L383.50 348.00 L384.00 348.00 L384.50 348.00 L385.00 348.00 L385.50 348.00 L386.00 348.00 L386.50 348.00 L387.00 348.00 L387.50 348.00 L388.00 348.00 L388.50 348.00 L389.00 348.00 L389.50 348.00 L390.00 348.00 L390.50 348.00 L391.00 348.00 L391.50 348.00 L392.00 348.00 L392.50 348.00 L393.00 348.00 L393.50 348.00 L394.00 348.00 L394.50 348.00 L395.00 348.00 L395.50 348.00 L396.00 348.00 L396.50 348.00 L397.00 348.00 L397.50 348.00 L398.00 348.00 L398.50 348.00 L399.00 348.00 L399.50 348.00 L400.00 348.00 L400.50 348.00 L401.00 348.00 L401.50 348.00 L402.00 348.00 L402.50 348.00 L403.00 348.00 L403.50 348.00 L404.00 348.00 L404.50 348.00 L405.00 348.00 L405.50 348.00 L406.00 348.00 L406.50 348.00 L407.00 348.00 L407.50 348.00 L408.00 348.00 L408.50 348.00 L409.00 348.00 L409.50 348.00 L410.00 348.00 L410.50 348.00 L411.00 348.00 L411.20 348.00 L411.50 348.00 L412.00 348.00 L412.50 348.00 L413.00 348.00 L413.50 348.00 L414.00 348.00 L414.50 348.00 L415.00 348.00 L415.50 348.00 L416.00 348.00 L416.05 348.00 L416.50 347.73 L417.00 347.03 L417.50 346.03 L418.00 344.30 L418.50 342.37 L419.00 340.52 L419.50 338.52 L420.00 336.14 L420.50 333.21 L421.00 329.76 L421.50 325.89 L422.00 321.72 L422.50 316.71 L423.00 311.25 L423.50 306.41 L424.00 302.15 L424.50 298.16 L425.00 294.35 L425.50 290.79 L426.00 287.38 L426.50 283.92 L427.00 280.21 L427.50 276.20 L428.00 272.00 L428.50 267.70 L429.00 263.43 L429.50 259.27 L430.00 255.33 L430.50 251.57 L431.00 247.81 L431.50 244.09 L432.00 240.48 L432.50 237.02 L433.00 233.75 L433.50 230.74 L434.00 228.01 L434.50 225.52 L435.00 223.21 L435.50 221.14 L436.00 219.35 L436.50 217.72 L437.00 216.29 L437.50 215.52 L438.00 215.19 L438.50 214.96 L439.00 214.86 L439.50 214.99 L440.00 215.37 L440.50 215.92 L441.00 216.97 L441.50 218.87 L442.00 221.21 L442.50 223.58 L443.00 225.84 L443.50 228.39 L444.00 231.45 L444.50 235.01 L445.00 239.01 L445.50 243.40 L446.00 248.48 L446.50 254.22 L447.00 260.61 L447.50 267.35 L448.00 273.60 L448.50 280.44 L449.00 289.58 L449.50 299.53 L450.00 309.43 L450.50 319.00 L451.00 326.99 L451.50 333.73 L452.00 341.04 L452.45 348.00 L452.50 348.00 L453.00 348.00 L453.50 348.00 L454.00 348.00 L454.50 348.00 L455.00 348.00 L455.50 348.00 L456.00 348.00 L456.50 348.00 L457.00 348.00 L457.30 348.00 L457.50 348.00 L458.00 348.00 L458.50 348.00 L459.00 348.00 L459.50 348.00 L460.00 348.00 L460.50 348.00 L461.00 348.00 L461.50 348.00 L462.00 348.00 L462.50 348.00 L463.00 348.00 L463.50 348.00 L464.00 348.00 L464.50 348.00 L465.00 348.00 L465.50 348.00 L466.00 348.00 L466.50 348.00 L467.00 348.00 L467.50 348.00 L468.00 348.00 L468.50 348.00 L469.00 348.00 L469.50 348.00 L470.00 348.00 L470.50 348.00 L471.00 348.00 L471.50 348.00 L472.00 348.00 L472.50 348.00 L473.00 348.00 L473.50 348.00 L474.00 348.00 L474.50 348.00 L475.00 348.00 L475.50 348.00 L476.00 348.00 L476.50 348.00 L477.00 348.00 L477.50 348.00 L478.00 348.00 L478.50 348.00 L479.00 348.00 L479.50 348.00 L480.00 348.00 L480.50 348.00 L481.00 348.00 L481.50 348.00 L482.00 348.00 L482.50 348.00 L483.00 348.00 L483.50 348.00 L484.00 348.00 L484.50 348.00 L485.00 348.00 L485.50 348.00 L486.00 348.00 L486.50 348.00 L487.00 348.00 L487.50 348.00 L488.00 348.00 L488.50 348.00 L489.00 348.00 L489.50 348.00 L490.00 348.00 L490.50 348.00 L491.00 348.00 L491.50 348.00 L492.00 348.00 L492.50 348.00 L493.00 348.00 L493.50 348.00 L493.70 348.00 L494.00 348.00 L494.50 348.00 L495.00 348.00 L495.50 348.00 L496.00 348.00 L496.50 348.00 L497.00 348.00 L497.50 348.00" fill="none" stroke="#0000ff" stroke-width="2" stroke-linejoin="miter" />
<path d="M83.00 386.00 L84.50 386.00 L85.50 385.00 L122.00 385.00 L122.00 400.50 L124.00 401.50 L124.00 460.00 L125.00 461.00 L125.00 478.60 L126.00 480.00 L164.00 480.00 L164.00 462.50 L165.00 461.50 L165.00 429.50 L166.00 428.50 L166.00 387.00 L167.50 385.00 L205.00 385.00 L205.00 401.00 L206.00 402.00 L206.00 406.00 L207.00 407.00 L207.00 477.50 L208.50 480.00 L246.00 480.00 L246.00 463.50 L248.00 462.00 L248.00 387.00 L249.50 385.00 L287.00 385.00 L287.00 393.00 L288.00 394.00 L288.00 401.00 L289.00 402.00 L289.00 471.00 L290.00 472.00 L290.00 478.00 L291.50 480.00 L329.00 480.00 L329.00 462.50 L330.00 461.50 L330.00 425.00 L331.00 424.00 L331.00 387.00 L332.50 385.00 L370.00 385.00 L370.00 401.00 L371.00 402.00 L371.00 414.00 L372.00 415.00 L372.00 477.50 L373.50 480.00 L411.00 480.00 L411.00 463.50 L413.00 462.00 L413.00 387.00 L414.50 385.00 L452.00 385.00 L452.00 393.00 L453.00 394.00 L453.00 401.00 L454.00 402.00 L454.00 477.50 L455.50 480.00 L493.10 480.00 L493.10 471.60 L494.30 471.00 L494.30 462.40 L495.20 462.00 L495.20 414.00 L496.20 413.00 L496.20 386.20 L497.70 385.20" fill="none" stroke="#ff0000" stroke-width="2" stroke-linejoin="miter" />
<text transform="translate(83.4 45) scale(0.93 1)" text-anchor="end">DVM CLK</text>
<text transform="translate(79.8 78) scale(0.9 1)" text-anchor="end">1.5</text>
<text transform="translate(79.8 97) scale(0.9 1)" text-anchor="end">1</text>
<text transform="translate(79.8 116) scale(0.9 1)" text-anchor="end">0.5</text>
<text transform="translate(79.8 135) scale(0.9 1)" text-anchor="end">0</text>
<text transform="translate(79.8 154) scale(0.9 1)" text-anchor="end">-0.5</text>
<text transform="translate(79.8 174) scale(0.9 1)" text-anchor="end">-1</text>
<text transform="translate(79.8 193) scale(0.9 1)" text-anchor="end">-1.5</text>
<text transform="translate(79.8 224) scale(0.9 1)" text-anchor="end">2.4</text>
<text transform="translate(79.8 246) scale(0.9 1)" text-anchor="end">2</text>
<text transform="translate(79.8 267) scale(0.9 1)" text-anchor="end">1.6</text>
<text transform="translate(79.8 289) scale(0.9 1)" text-anchor="end">1.2</text>
<text transform="translate(79.8 310) scale(0.9 1)" text-anchor="end">0.8</text>
<text transform="translate(79.8 332) scale(0.9 1)" text-anchor="end">0.4</text>
<text transform="translate(79.8 353) scale(0.9 1)" text-anchor="end">-0</text>
<text transform="translate(79.8 381) scale(0.9 1)" text-anchor="end">30</text>
<text transform="translate(79.8 400) scale(0.9 1)" text-anchor="end">20</text>
<text transform="translate(79.8 419) scale(0.9 1)" text-anchor="end">10</text>
<text transform="translate(79.8 438) scale(0.9 1)" text-anchor="end">0</text>
<text transform="translate(79.8 457) scale(0.9 1)" text-anchor="end">-10</text>
<text transform="translate(79.8 476) scale(0.9 1)" text-anchor="end">-20</text>
<text transform="translate(79.8 495) scale(0.9 1)" text-anchor="end">-30</text>
<text transform="translate(83.9 512) scale(0.9 1)" text-anchor="middle">0</text>
<text transform="translate(149.9 512) scale(0.9 1)" text-anchor="middle">10</text>
<text transform="translate(215.9 512) scale(0.9 1)" text-anchor="middle">20</text>
<text transform="translate(281.9 512) scale(0.9 1)" text-anchor="middle">30</text>
<text transform="translate(347.9 512) scale(0.9 1)" text-anchor="middle">40</text>
<text transform="translate(413.9 512) scale(0.9 1)" text-anchor="middle">50</text>
<text transform="translate(479.9 512) scale(0.9 1)" text-anchor="middle">60</text>
<text transform="translate(545.9 512) scale(0.9 1)" text-anchor="middle">70</text>
<text transform="translate(83.7 543) scale(0.96 1)" text-anchor="start">time/uSecs</text>
<text transform="translate(578.8 543) scale(0.93 1)" text-anchor="end">10uSecs/div</text>
<text transform="translate(29.5 131) rotate(-90) scale(0.95 1)" text-anchor="middle">DVM ICout / A</text>
<text transform="translate(29.5 282) rotate(-90) scale(1.0 1)" text-anchor="middle">A</text>
<text transform="translate(29.5 433) rotate(-90) scale(0.97 1)" text-anchor="middle">DVM Vs / V</text>
</g>
</svg>
</body></html>
